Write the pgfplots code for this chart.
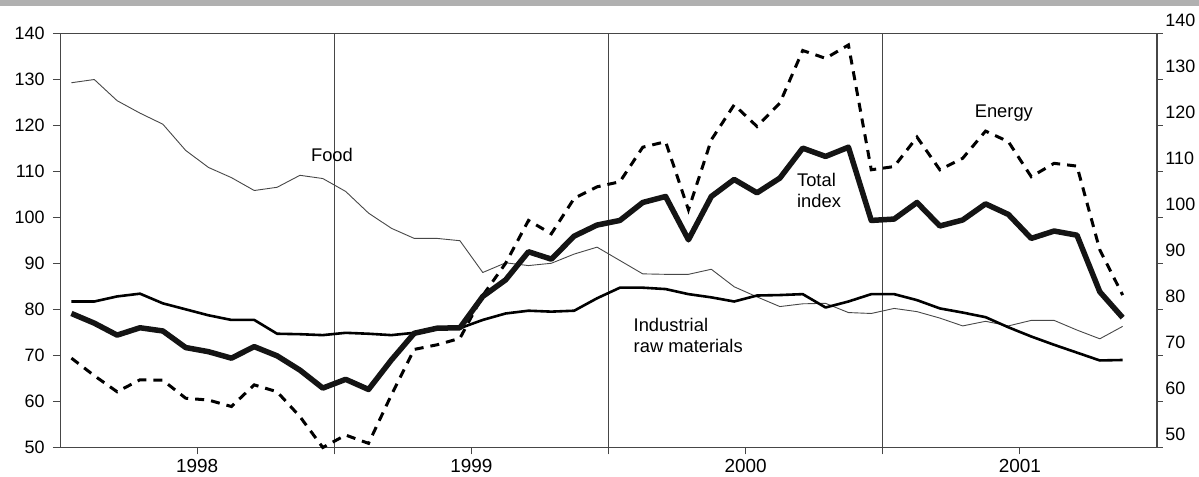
\documentclass[border=0pt]{standalone}
\usepackage{fontspec}
\setmainfont{Liberation Sans}
\usepackage{pgfplots}
\usepackage{pgfplotstable}
\pgfplotsset{compat=1.18}
\definecolor{bargray}{RGB}{176,176,176}
\definecolor{framegray}{RGB}{70,70,70}

% x = month index + 0.5 (Jan 1998 = 0.5), food, industrial, total, energy
\pgfplotstableread{
x    food   ind   tot    ene
0.5  129.2  81.7  79.1   69.4
1.5  129.9  81.7  77.0   65.6
2.5  125.3  82.8  74.4   62.1
3.5  122.6  83.4  76.0   64.7
4.5  120.2  81.3  75.3   64.6
5.5  114.5  80.0  71.7   60.7
6.5  110.8  78.7  70.8   60.3
7.5  108.6  77.7  69.4   58.9
8.5  105.8  77.7  71.9   63.6
9.5  106.5  74.7  69.9   62.1
10.5 109.1  74.6  66.8   56.7
11.5 108.4  74.4  62.9   50.0
12.5 105.6  74.9  64.8   52.7
13.5 100.9  74.7  62.6   50.9
14.5 97.6   74.4  69.0   61.4
15.5 95.4   74.9  74.8   71.3
16.5 95.4   75.9  75.9   72.3
17.5 94.9   75.9  76.0   73.7
18.5 88.0   77.7  82.8   83.0
19.5 90.1   79.1  86.4   90.0
20.5 89.5   79.7  92.5   99.3
21.5 90.0   79.5  90.9   96.4
22.5 92.0   79.7  95.9   104.1
23.5 93.5   82.4  98.3   106.6
24.5 90.6   84.7  99.3   107.7
25.5 87.7   84.7  103.2  115.2
26.5 87.6   84.4  104.5  116.4
27.5 87.6   83.3  95.1   101.6
28.5 88.7   82.6  104.5  116.8
29.5 84.9   81.7  108.2  124.4
30.5 82.7   83.0  105.3  119.7
31.5 80.6   83.1  108.5  124.8
32.5 81.2   83.3  115.0  136.2
33.5 81.3   80.4  113.2  134.5
34.5 79.3   81.7  115.2  137.4
35.5 79.1   83.3  99.3   110.3
36.5 80.2   83.3  99.6   111.0
37.5 79.5   82.0  103.2  117.4
38.5 78.1   80.2  98.1   110.3
39.5 76.4   79.3  99.4   112.8
40.5 77.4   78.3  102.9  118.7
41.5 76.4   76.1  100.6  116.4
42.5 77.6   74.1  95.4   108.8
43.5 77.6   72.3  97.0   111.7
44.5 75.5   70.6  96.1   111.1
45.5 73.6   68.9  83.8   92.9
46.5 76.3   69.0  78.2   83.1
}\datatable

\begin{document}
\begin{tikzpicture}
\useasboundingbox (-60bp,-29.5bp) rectangle (1139bp,447.5bp);
\fill[bargray] (-60bp,441.5bp) rectangle (1139bp,447.5bp);
\begin{axis}[
  at={(0,0)}, anchor=south west,
  width=1097bp, height=414.5bp, scale only axis,
  xmin=0, xmax=48, ymin=50, ymax=140,
  clip=false,
  axis line style={draw=framegray, line width=0.9bp},
  tick align=outside,
  xtick pos=left, ytick pos=left,
  major tick length=7bp,
  tick style={draw=framegray, line width=0.9bp},
  ytick={50,60,...,140},
  xtick={6,18,30,42},
  xticklabels={1998,1999,2000,2001},
  extra x ticks={12,24,36},
  extra x tick labels={},
  extra x tick style={grid=major, major grid style={draw=framegray, line width=0.9bp}},
  /pgf/number format/assume math mode=true,
  tick label style={font=\fontsize{18}{21}\selectfont, text=black},
  yticklabel style={xshift=-5bp},
  xticklabel style={yshift=-1bp, font=\fontsize{19}{22}\selectfont},
]
\addplot[draw=black!72, line width=0.9bp, line join=round] table[x=x, y=food] {\datatable};
\addplot[draw=black, line width=2.6bp, line join=round] table[x=x, y=ind] {\datatable};
\addplot[draw=black, line width=3bp, dash pattern=on 9bp off 7bp] table[x=x, y=ene] {\datatable};
\addplot[draw=black!92, line width=5.5bp, line join=round] table[x=x, y=tot] {\datatable};

\node[font=\fontsize{18.4}{21}\selectfont] at (axis cs:11.9,113.5) {Food};
\node[font=\fontsize{18.4}{21}\selectfont, anchor=west, align=left] at (axis cs:32.1,105.9) {Total\\index};
\node[font=\fontsize{18.4}{21}\selectfont] at (axis cs:41.3,122.6) {Energy};
\node[font=\fontsize{18.4}{21}\selectfont, anchor=west, align=left] at (axis cs:24.95,74.4) {Industrial\\raw materials};
\end{axis}
\begin{axis}[
  at={(0,0)}, anchor=south west,
  width=1097bp, height=414.5bp, scale only axis,
  xmin=0, xmax=48, ymin=50, ymax=140,
  axis x line=none,
  axis y line*=right,
  axis line style={draw=framegray, line width=0.9bp},
  tick align=outside,
  major tick length=6bp,
  tick style={draw=framegray, line width=0.9bp},
  ytick={50,60,...,140},
  /pgf/number format/assume math mode=true,
  tick label style={font=\fontsize{18}{21}\selectfont, text=black},
  yticklabel style={yshift=13bp, xshift=-1bp},
]
\end{axis}
\end{tikzpicture}
\end{document}
